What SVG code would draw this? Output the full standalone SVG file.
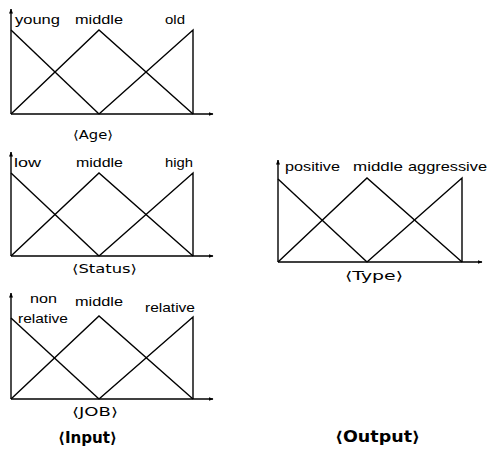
<svg xmlns="http://www.w3.org/2000/svg" width="488" height="449" viewBox="0 0 488 449">
<defs>
<marker id="ah" viewBox="0 0 10 10" refX="9" refY="5" markerWidth="5" markerHeight="5" orient="auto" markerUnits="userSpaceOnUse">
<path d="M0,1 L10,5 L0,9 Z" fill="#000"/>
</marker>
<style>
.ax{stroke:#000;stroke-width:1.4;fill:none;marker-end:url(#ah)}
.mf{stroke:#000;stroke-width:1.4;fill:none;stroke-linejoin:miter}
text{font-family:"Liberation Sans",Arial,sans-serif;font-size:13.5px;fill:#000}
.cap{font-family:"DejaVu Sans",sans-serif;font-size:12px}
.big{font-family:"DejaVu Sans",sans-serif;font-size:15px;font-weight:bold}
</style>
</defs>
<rect width="488" height="449" fill="#fff"/>
<g id="age">
<line class="ax" x1="11" y1="114" x2="11" y2="9"/>
<line class="ax" x1="11" y1="114" x2="213" y2="114"/>
<polyline class="mf" points="11,30 99,114"/>
<polyline class="mf" points="11,114 99,30 193,114"/>
<polyline class="mf" points="99,114 193,30 193,114"/>
<text x="15" y="24" textLength="45" lengthAdjust="spacingAndGlyphs">young</text>
<text x="75" y="24" textLength="48" lengthAdjust="spacingAndGlyphs">middle</text>
<text x="165" y="24" textLength="20" lengthAdjust="spacingAndGlyphs">old</text>
<text class="cap" x="73" y="139" textLength="40" lengthAdjust="spacingAndGlyphs">⟨Age⟩</text>
</g>
<g id="status">
<line class="ax" x1="11" y1="256" x2="11" y2="152"/>
<line class="ax" x1="11" y1="256" x2="213" y2="256"/>
<polyline class="mf" points="11,173 99,256"/>
<polyline class="mf" points="11,256 99,173 193,256"/>
<polyline class="mf" points="99,256 193,173 193,256"/>
<text x="14" y="167" textLength="27" lengthAdjust="spacingAndGlyphs">low</text>
<text x="76" y="167" textLength="47" lengthAdjust="spacingAndGlyphs">middle</text>
<text x="165" y="167" textLength="28" lengthAdjust="spacingAndGlyphs">high</text>
<text class="cap" x="72" y="273" textLength="65" lengthAdjust="spacingAndGlyphs">⟨Status⟩</text>
</g>
<g id="job">
<line class="ax" x1="11" y1="399" x2="11" y2="293"/>
<line class="ax" x1="11" y1="399" x2="213" y2="399"/>
<polyline class="mf" points="11,318 99,399"/>
<polyline class="mf" points="11,399 99,316 193,399"/>
<polyline class="mf" points="99,399 193,317 193,399"/>
<text x="30" y="303" textLength="27" lengthAdjust="spacingAndGlyphs">non</text>
<text x="18" y="323" textLength="50" lengthAdjust="spacingAndGlyphs">relative</text>
<text x="75" y="306" textLength="48" lengthAdjust="spacingAndGlyphs">middle</text>
<text x="145" y="312" textLength="50" lengthAdjust="spacingAndGlyphs">relative</text>
<text class="cap" x="72" y="416" textLength="46" lengthAdjust="spacingAndGlyphs">⟨JOB⟩</text>
</g>
<g id="type">
<line class="ax" x1="278" y1="262" x2="278" y2="160"/>
<line class="ax" x1="278" y1="262" x2="482" y2="262"/>
<polyline class="mf" points="278,179 367,262"/>
<polyline class="mf" points="278,262 367,178 462,262"/>
<polyline class="mf" points="367,262 462,178 462,262"/>
<text x="285" y="171" textLength="55" lengthAdjust="spacingAndGlyphs">positive</text>
<text x="353" y="171" textLength="50" lengthAdjust="spacingAndGlyphs">middle</text>
<text x="408" y="171" textLength="79" lengthAdjust="spacingAndGlyphs">aggressive</text>
<text class="cap" x="345" y="280" textLength="58" lengthAdjust="spacingAndGlyphs">⟨Type⟩</text>
</g>
<g id="input-label">
<text class="big" x="58" y="443" textLength="59" lengthAdjust="spacingAndGlyphs">⟨Input⟩</text>
</g>
<g id="output-label">
<text class="big" x="335" y="442" textLength="85" lengthAdjust="spacingAndGlyphs">⟨Output⟩</text>
</g>
</svg>
